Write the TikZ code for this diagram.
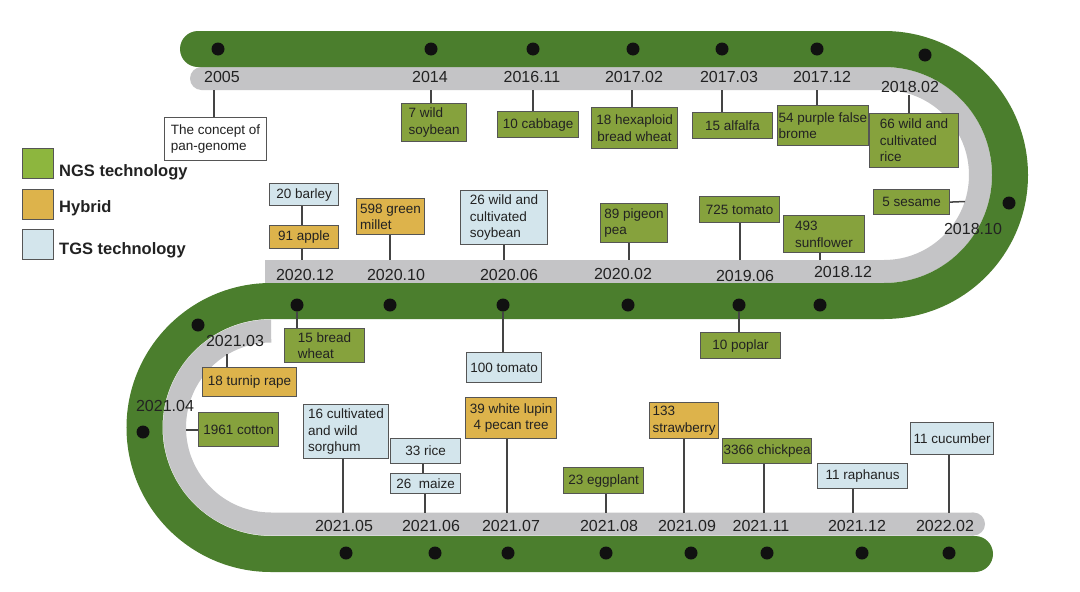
\documentclass[tikz,border=0pt]{standalone}
\usepackage{fontspec}
\setmainfont{Liberation Sans}
\definecolor{bandgreen}{HTML}{4B7E2D}
\definecolor{bandgray}{HTML}{C4C4C6}
\definecolor{ngsfill}{HTML}{86A23D}
\definecolor{legngs}{HTML}{8DB63E}
\definecolor{hybfill}{HTML}{DDB34B}
\definecolor{tgsfill}{HTML}{D3E5EC}
\definecolor{boxline}{HTML}{555555}
\definecolor{txt}{HTML}{222222}
\definecolor{connc}{HTML}{444444}
\definecolor{dotc}{HTML}{111111}
\tikzset{
  box/.style={draw=boxline, line width=1.2pt, inner xsep=3pt, inner ysep=1pt,
    font=\fontsize{13.5}{16.5}\selectfont, text=txt, align=left, anchor=north west},
  ngsbox/.style={box, fill=ngsfill},
  hybbox/.style={box, fill=hybfill},
  tgsbox/.style={box, fill=tgsfill},
  whitebox/.style={box, fill=white},
  year/.style={font=\fontsize{16}{18}\selectfont, text=txt, inner sep=0pt},
  conn/.style={draw=connc, line width=1.5pt},
  dot/.style={circle, fill=dotc, inner sep=0pt, minimum size=13pt},
  legsq/.style={draw=boxline, line width=1.2pt, minimum width=31pt, minimum height=30pt, anchor=north west},
  legtxt/.style={font=\fontsize{16.5}{18}\selectfont\bfseries, text=txt, anchor=base west, inner sep=0pt},
}
\begin{document}
\begin{tikzpicture}[x=1pt,y=1pt]
\useasboundingbox (0,0) rectangle (1080,-592);
\fill[white] (0,0) rectangle (1080,-592);

% ---- bands ----
\draw[bandgray, line width=23pt, line cap=butt]
  (201.5,-78.5) -- (884,-78.5) arc[start angle=90,end angle=-90,radius=96.5] -- (265,-271.5);
\fill[bandgray] (201.5,-78.5) circle[radius=11.5];
\draw[bandgray, line width=23pt, line cap=butt]
  (266,-331) -- (271,-331) arc[start angle=90,end angle=270,radius=96.5] -- (973.5,-524);
\fill[bandgray] (973.5,-524) circle[radius=11.5];
\draw[bandgreen, line width=36pt, line cap=round]
  (198,-49) -- (884,-49) arc[start angle=90,end angle=-90,radius=126]
  -- (271,-301) arc[start angle=90,end angle=270,radius=126.5] -- (975,-554);

% ---- legend ----
\node[legsq, fill=legngs] (lngs) at (22,-148) {};
\node[legsq, fill=hybfill] (lhyb) at (22,-189) {};
\node[legsq, fill=tgsfill] (ltgs) at (22,-229) {};
\node[legtxt] (tngs) at (59,-176) {NGS technology};
\node[legtxt] (thyb) at (59,-212) {Hybrid};
\node[legtxt] (ttgs) at (59,-254) {TGS technology};

% ---- top row ----
\foreach \n/\x/\y in {d2005/218/49, d2014/431/49, d201611/533/49, d201702/633/49,
  d201703/722/49, d201712/817/49, d201802/925/55, d201810/1009/203}
  \node[dot] (\n) at (\x,-\y) {};
\node[year] (y2005) at (222,-77) {2005};
\node[year] (y2014) at (430,-77) {2014};
\node[year] (y201611) at (532,-77) {2016.11};
\node[year] (y201702) at (634,-77) {2017.02};
\node[year] (y201703) at (729,-77) {2017.03};
\node[year] (y201712) at (822,-77) {2017.12};
\node[year] (y201802) at (910,-87) {2018.02};
\node[year] (y201810) at (973,-229) {2018.10};

\node[whitebox, minimum width=102pt, minimum height=43pt] (b2005) at (164,-117) {The concept of\\pan-genome};
\node[ngsbox, minimum width=65pt, minimum height=38pt] (b2014) at (401,-103) {7 wild\\ soybean};
\node[ngsbox, minimum width=81pt, minimum height=26pt] (b201611) at (497,-111) {10 cabbage};
\node[ngsbox, minimum width=86pt, minimum height=41pt, align=center] (b201702) at (591,-107) {18 hexaploid\\bread wheat};
\node[ngsbox, minimum width=80pt, minimum height=26pt] (b201703) at (692,-112) {15 alfalfa};
\node[ngsbox, minimum width=90pt, minimum height=40pt, inner xsep=1pt] (b201712) at (777,-105) {54 purple false\\brome};
\node[ngsbox, minimum width=89pt, minimum height=54pt] (b201802) at (869,-113) {66 wild and\\cultivated\\rice};
\node[ngsbox, minimum width=76pt, minimum height=25pt] (b201810) at (873,-189) {5 sesame};

\coordinate (c2005) at (214,-90);
\coordinate (c2014) at (431,-90);
\coordinate (c201611) at (533,-90);
\coordinate (c201702) at (632,-90);
\coordinate (c201703) at (722,-90);
\coordinate (c201712) at (817,-90);
\coordinate (c201802) at (909,-95);
\coordinate (c201810) at (965,-201.5);
\foreach \n in {2005,2014,201611,201702,201703,201712,201802}
  \draw[conn] (c\n) -- (c\n |- b\n.north);
\draw[conn] (b201810.east) -- (c201810);

% ---- middle row ----
\foreach \n/\x/\y in {d202012/297/305, d202010/390/305, d202006/503/305, d202002/628/305,
  d201906/739/305, d201812/820/305, d202103/198/325, d202104/143/432}
  \node[dot] (\n) at (\x,-\y) {};
\node[year] (y202012) at (305,-275) {2020.12};
\node[year] (y202010) at (396,-275) {2020.10};
\node[year] (y202006) at (509,-275) {2020.06};
\node[year] (y202002) at (623,-274) {2020.02};
\node[year] (y201906) at (745,-276) {2019.06};
\node[year] (y201812) at (843,-272) {2018.12};
\node[year] (y202103) at (235,-341) {2021.03};
\node[year] (y202104) at (165,-406) {2021.04};

\node[tgsbox, minimum width=69pt, minimum height=22pt] (bbarley) at (269,-183) {20 barley};
\node[hybbox, minimum width=69pt, minimum height=23pt] (b202012) at (269,-225) {91 apple};
\node[hybbox, minimum width=68pt, minimum height=36pt] (b202010) at (356,-198) {598 green\\millet};
\node[tgsbox, minimum width=87pt, minimum height=54pt] (b202006) at (460,-190) {26 wild and\\cultivated\\soybean};
\node[ngsbox, minimum width=67pt, minimum height=39pt] (b202002) at (600,-203) {89 pigeon\\ pea};
\node[ngsbox, minimum width=80pt, minimum height=26pt] (b201906) at (699,-196) {725 tomato};
\node[ngsbox, minimum width=81pt, minimum height=37pt] (b201812) at (783,-215) {493\\sunflower};

\coordinate (c202012) at (302,-259.5);
\coordinate (c202010) at (390,-259.5);
\coordinate (c202006) at (504,-259.5);
\coordinate (c202002) at (629,-259.5);
\coordinate (c201906) at (740,-259.5);
\coordinate (c201812) at (820,-259.5);
\foreach \n in {202012,202010,202006,202002,201906,201812}
  \draw[conn] (c\n) -- (c\n |- b\n.south);
\draw[conn] (bbarley.south -| c202012) -- (b202012.north -| c202012);

\node[ngsbox, minimum width=80pt, minimum height=34pt] (bbread) at (284,-328) {15 bread\\wheat};
\node[tgsbox, minimum width=75pt, minimum height=30pt] (btom100) at (466,-352) {100 tomato};
\node[ngsbox, minimum width=80pt, minimum height=26pt] (bpoplar) at (700,-332) {10 poplar};
\draw[conn] (d202012) -- (d202012 |- bbread.north);
\draw[conn] (d202006) -- (d202006 |- btom100.north);
\draw[conn] (d201906) -- (d201906 |- bpoplar.north);

\node[hybbox, minimum width=94pt, minimum height=29pt] (b202103) at (202,-367) {18 turnip rape};
\node[ngsbox, minimum width=80pt, minimum height=34pt, inner xsep=1pt] (b202104) at (198,-412) {1961 cotton};
\coordinate (c202103) at (227,-354);
\coordinate (c202104) at (186,-430);
\draw[conn] (c202103) -- (c202103 |- b202103.north);
\draw[conn] (c202104) -- (c202104 -| b202104.west);

% ---- bottom row ----
\foreach \n/\x in {d202105/346, d202106/435, d202107/508, d202108/606, d202109/691,
  d202111/767, d202112/862, d202202/949}
  \node[dot] (\n) at (\x,-553) {};
\foreach \n/\x/\t in {y202105/344/2021.05, y202106/431/2021.06, y202107/511/2021.07,
  y202108/609/2021.08, y202109/687/2021.09, y202111/761/2021.11, y202112/857/2021.12,
  y202202/945/2022.02}
  \node[year] (\n) at (\x,-526) {\t};

\node[tgsbox, minimum width=85pt, minimum height=54pt] (b202105) at (303,-404) {16 cultivated\\ and wild\\sorghum};
\node[tgsbox, minimum width=70pt, minimum height=25pt] (brice) at (390,-438) {33 rice};
\node[tgsbox, minimum width=70pt, minimum height=20pt] (b202106) at (390,-473) {26\ \ maize};
\node[hybbox, minimum width=91pt, minimum height=41pt, align=center] (b202107) at (465,-397) {39 white lupin\\4 pecan tree};
\node[ngsbox, minimum width=80pt, minimum height=26pt] (b202108) at (563,-467) {23 eggplant};
\node[hybbox, minimum width=69pt, minimum height=36pt, inner xsep=1pt] (b202109) at (649,-402) {133\\strawberry};
\node[ngsbox, minimum width=89pt, minimum height=25pt, inner xsep=0pt] (b202111) at (722,-438) {3366 chickpea};
\node[tgsbox, minimum width=90pt, minimum height=25pt] (b202112) at (817,-463) {11 raphanus};
\node[tgsbox, minimum width=83pt, minimum height=32pt] (b202202) at (910,-422) {11 cucumber};

\coordinate (c202105) at (343,-512.5);
\coordinate (c202106) at (425,-512.5);
\coordinate (c202107) at (507,-512.5);
\coordinate (c202108) at (606,-512.5);
\coordinate (c202109) at (684,-512.5);
\coordinate (c202111) at (764,-512.5);
\coordinate (c202112) at (853,-512.5);
\coordinate (c202202) at (949,-512.5);
\foreach \n in {202105,202106,202107,202108,202109,202111,202112,202202}
  \draw[conn] (c\n) -- (c\n |- b\n.south);
\draw[conn] (brice.south -| 423,0) -- (b202106.north -| 423,0);
\end{tikzpicture}
\end{document}
